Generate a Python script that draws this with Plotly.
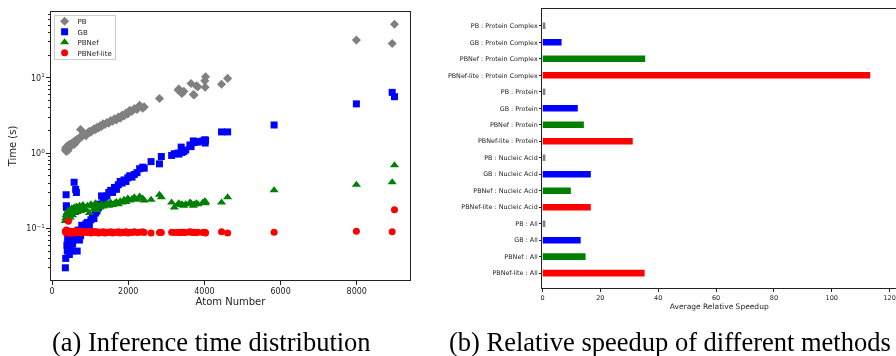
import plotly.graph_objects as go

# ---------------- data: (a) inference time ----------------
atoms = [350, 360, 370, 375, 380, 390, 400, 410, 420, 430, 440, 455, 470, 480, 500, 520,
         540, 560, 580, 600, 620, 640, 660, 690, 720, 750, 780, 810, 850, 890, 930, 980,
         1020, 1060, 1100, 1140, 1180, 1220, 1260, 1300, 1340, 1390, 1440, 1490, 1540, 1590,
         1640, 1690, 1740, 1790, 1840, 1890, 1940, 1990, 2040, 2100, 2160, 2230, 2300, 2380,
         2420, 2600, 2820, 2870, 3140, 3210, 3310, 3330, 3390, 3410, 3460, 3510, 3620, 3650,
         3710, 3730, 3790, 3830, 3960, 4010, 4020, 4030, 4450, 4610, 5830, 7990, 8930, 8990]

time_pb = [1.10, 1.18, 1.12, 1.05, 1.15, 1.20, 1.13, 1.25, 1.08, 1.22, 1.17, 1.30, 1.20, 1.28, 1.25, 1.35,
           1.32, 1.40, 1.30, 1.45, 1.38, 1.50, 1.45, 1.55, 1.60, 2.05, 1.65, 1.75, 1.80, 1.70, 1.85, 1.95,
           1.90, 2.00, 2.10, 2.05, 2.20, 2.15, 2.30, 2.25, 2.45, 2.40, 2.55, 2.50, 2.70, 2.65,
           2.85, 2.75, 3.00, 2.90, 3.20, 3.10, 3.40, 3.30, 3.70, 3.60, 3.90, 3.80, 4.30, 3.95,
           4.10, None, 5.3, None, None, None, 6.9, 7.1, 6.4, 6.2, 6.6, None, None, 8.4,
           6.0, 5.9, 7.8, 7.6, None, 9.1, 7.5, 10.3, 8.2, 9.8, None, 31.6, 28.5, 51.4]

time_gb = [0.030, 0.040, 0.28, 0.20, 0.19, 0.060, 0.050, 0.075, 0.065, 0.055, 0.090, 0.045, 0.070, 0.058, 0.080, 0.050,
           0.062, 0.072, 0.41, 0.085, 0.33, 0.30, 0.050, 0.095, 0.070, 0.080, 0.11, 0.090, 0.10, 0.115, 0.12, 0.11,
           0.13, 0.14, 0.135, 0.16, 0.17, 0.19, 0.21, 0.27, 0.23, 0.25, 0.27, 0.30, 0.32, 0.30,
           0.35, 0.33, 0.38, 0.42, 0.40, 0.44, 0.42, 0.47, 0.50, 0.48, 0.52, 0.55, 0.62, 0.65,
           0.63, 0.77, 0.72, 0.90, 0.93, 0.98, 1.00, 0.97, 1.20, 1.02, 1.05, 1.10, 1.28, 1.22,
           1.45, 1.38, 1.42, 1.40, 1.45, 1.50, 1.36, 1.48, 1.91, 1.91, 2.36, 4.5, 6.4, 5.6]

time_pbnef = [0.125, 0.135, 0.150, 0.128, 0.140, 0.160, 0.145, 0.155, 0.170, 0.135, 0.150, 0.165, 0.175, 0.140, 0.160, 0.185,
              0.150, 0.170, 0.190, 0.160, 0.175, 0.195, 0.165, 0.180, 0.200, 0.170, 0.190, 0.205, 0.185, 0.175, 0.200, 0.160,
              0.210, 0.195, 0.180, 0.215, 0.175, 0.200, 0.190, 0.210, 0.195, 0.205, 0.215, 0.200, 0.220, 0.205,
              0.215, 0.225, 0.210, 0.230, 0.220, 0.240, 0.225, 0.250, 0.235, 0.245, 0.260, 0.240, 0.265, 0.250,
              0.235, 0.240, 0.280, 0.260, 0.220, 0.190, 0.210, 0.215, 0.205, 0.210, 0.200, 0.210, 0.220, 0.215,
              0.200, 0.210, 0.215, 0.210, 0.220, 0.230, 0.215, 0.225, 0.220, 0.260, 0.32, 0.38, 0.41, 0.69]

time_lite = [0.092, 0.088, 0.090, 0.095, 0.089, 0.091, 0.087, 0.093, 0.088, 0.124, 0.090, 0.086, 0.092, 0.089, 0.090, 0.087,
             0.091, 0.088, 0.092, 0.087, 0.093, 0.089, 0.090, 0.088, 0.091, 0.092, 0.087, 0.090, 0.089, 0.091, 0.088, 0.090,
             0.087, 0.089, 0.091, 0.088, 0.090, 0.087, 0.089, 0.088, 0.090, 0.087, 0.089, 0.088, 0.090, 0.087,
             0.089, 0.088, 0.090, 0.087, 0.089, 0.088, 0.090, 0.087, 0.089, 0.088, 0.090, 0.088, 0.089, 0.090,
             0.088, 0.087, 0.088, 0.088, 0.089, 0.088, 0.089, 0.088, 0.089, 0.088, 0.089, 0.088, 0.090, 0.089,
             0.088, 0.089, 0.088, 0.089, 0.088, 0.089, 0.088, 0.087, 0.090, 0.087, 0.0886, 0.092, 0.090, 0.177]

series_names = ["PB", "GB", "PBNef", "PBNef-lite"]
series_colors = ["#808080", "#0000ff", "#008000", "#ff0000"]
series_symbols = ["diamond", "square", "triangle-up", "circle"]

# ---------------- data: (b) relative speedup ----------------
bar_labels = ["PB : Protein Complex", "GB : Protein Complex", "PBNef : Protein Complex", "PBNef-lite : Protein Complex",
              "PB : Protein", "GB : Protein", "PBNef : Protein", "PBNef-lite : Protein",
              "PB : Nucleic Acid", "GB : Nucleic Acid", "PBNef : Nucleic Acid", "PBNef-lite : Nucleic Acid",
              "PB : All", "GB : All", "PBNef : All", "PBNef-lite : All"]
bar_values = [1.0, 6.6, 35.5, 113.3,
              1.0, 12.2, 14.3, 31.2,
              1.0, 16.7, 9.8, 16.7,
              1.0, 13.2, 14.9, 35.3]
bar_colors = ["#808080", "#0000ff", "#008000", "#ff0000"] * 4

caption_a = "(a) Inference time distribution"
caption_b = "(b) Relative speedup of different methods"

# ---------------- figure ----------------
fig = go.Figure()
all_times = [time_pb, time_gb, time_pbnef, time_lite]
for name, vals, col, sym in zip(series_names, all_times, series_colors, series_symbols):
    xs = [a for a, v in zip(atoms, vals) if v is not None]
    ys = [v for v in vals if v is not None]
    fig.add_trace(go.Scatter(
        x=xs, y=ys, mode="markers", name=name,
        marker=dict(color=col, symbol=sym, size=7 if sym != "triangle-up" else 8, line=dict(width=0)),
        xaxis="x", yaxis="y",
    ))

fig.add_trace(go.Bar(
    x=bar_values, y=list(range(len(bar_labels))), orientation="h",
    marker=dict(color=bar_colors, line=dict(width=0)), width=0.4,
    showlegend=False, xaxis="x2", yaxis="y2",
))

axis_line = "#222222"
tick_font = dict(family="DejaVu Sans", size=8, color="#222222")

fig.update_layout(
    width=896, height=356,
    margin=dict(l=0, r=0, t=0, b=0),
    paper_bgcolor="white", plot_bgcolor="white",
    font=dict(family="DejaVu Sans", color="#222222"),
    showlegend=True,
    legend=dict(x=51.7 / 896, y=1 - 15 / 356, xanchor="left", yanchor="top",
                bgcolor="rgba(255,255,255,0.8)", bordercolor="#cccccc", borderwidth=1,
                font=dict(size=7, family="DejaVu Sans", color="#222222"), itemsizing="trace",
                tracegroupgap=0, itemwidth=30),
    xaxis=dict(domain=[49 / 896, 409 / 896], range=[-30, 9400], anchor="y",
               tickvals=[0, 2000, 4000, 6000, 8000], ticks="outside", ticklen=3.5, tickwidth=0.8,
               tickcolor=axis_line, showgrid=False, zeroline=False,
               showline=True, linecolor=axis_line, linewidth=1, mirror=True,
               tickfont=tick_font,
               title=dict(text="Atom Number", font=dict(size=10, family="DejaVu Sans"), standoff=2)),
    yaxis=dict(domain=[1 - 280 / 356, 1 - 12 / 356], type="log", range=[-1.685, 1.873], anchor="x",
               tickvals=[0.1, 1, 10], ticktext=["10<sup>−1</sup>", "10<sup>0</sup>", "10<sup>1</sup>"],
               ticks="outside", ticklen=3.5, tickwidth=0.8, tickcolor=axis_line,
               minor=dict(ticks="outside", ticklen=2, tickcolor=axis_line, tickwidth=0.6,
                          tickvals=[0.03, 0.04, 0.05, 0.06, 0.07, 0.08, 0.09,
                                    0.2, 0.3, 0.4, 0.5, 0.6, 0.7, 0.8, 0.9,
                                    2, 3, 4, 5, 6, 7, 8, 9, 20, 30, 40, 50, 60, 70]),
               showgrid=False, zeroline=False,
               showline=True, linecolor=axis_line, linewidth=1, mirror=True,
               tickfont=tick_font,
               title=dict(text="Time (s)", font=dict(size=10, family="DejaVu Sans"), standoff=7)),
    xaxis2=dict(domain=[541.7 / 896, 1.0], range=[0, 122.2], anchor="y2",
                tickvals=[0, 20, 40, 60, 80, 100, 120], ticks="outside", ticklen=3, tickwidth=0.8,
                tickcolor=axis_line, showgrid=False, zeroline=False,
                showline=True, linecolor=axis_line, linewidth=1, mirror=True,
                tickfont=dict(family="DejaVu Sans", size=6.5, color="#222222"),
                title=dict(text="Average Relative Speedup", font=dict(size=7.5, family="DejaVu Sans"), standoff=1)),
    yaxis2=dict(domain=[1 - 288 / 356, 1 - 9 / 356], range=[15.9, -1.02], anchor="x2",
                tickvals=list(range(len(bar_labels))), ticktext=bar_labels,
                ticks="outside", ticklen=2.5, tickwidth=0.8, tickcolor=axis_line,
                showgrid=False, zeroline=False,
                showline=True, linecolor=axis_line, linewidth=1, mirror=False,
                tickfont=dict(family="DejaVu Sans", size=6.4, color="#222222")),
    annotations=[
        dict(text=caption_a, x=210 / 896, y=1 - 342 / 356, xref="paper", yref="paper",
             xanchor="center", yanchor="middle", showarrow=False,
             font=dict(family="Liberation Serif", size=26.5, color="#000000")),
        dict(text=caption_b, x=669.5 / 896, y=1 - 342 / 356, xref="paper", yref="paper",
             xanchor="center", yanchor="middle", showarrow=False,
             font=dict(family="Liberation Serif", size=26.5, color="#000000")),
    ],
)

post_js = """
document.documentElement.style.margin='0';
document.body.style.margin='0';
document.body.style.overflow='hidden';
var gd = document.getElementById('{plot_id}');
gd.querySelectorAll('svg.main-svg').forEach(function(s) { s.style.willChange = 'transform'; });
var leg = gd.querySelector('g.legend');
if (leg) {
  var items = leg.querySelectorAll('g.traces');
  items.forEach(function(g, i) {
    g.setAttribute('transform', 'translate(1,' + (6.3 + i * 10.5) + ')');
    g.querySelectorAll('path.scatterpts').forEach(function(p) {
      p.setAttribute('transform', 'translate(10,0)');
    });
    var t = g.querySelector('text.legendtext');
    if (t) { t.setAttribute('x', 23); }
  });
  var bg = leg.querySelector('rect.bg');
  if (bg) { bg.setAttribute('width', 61.6); bg.setAttribute('height', 44.3); }
}
"""

fig.write_html("out.html", post_script=post_js, config={"displayModeBar": False})
